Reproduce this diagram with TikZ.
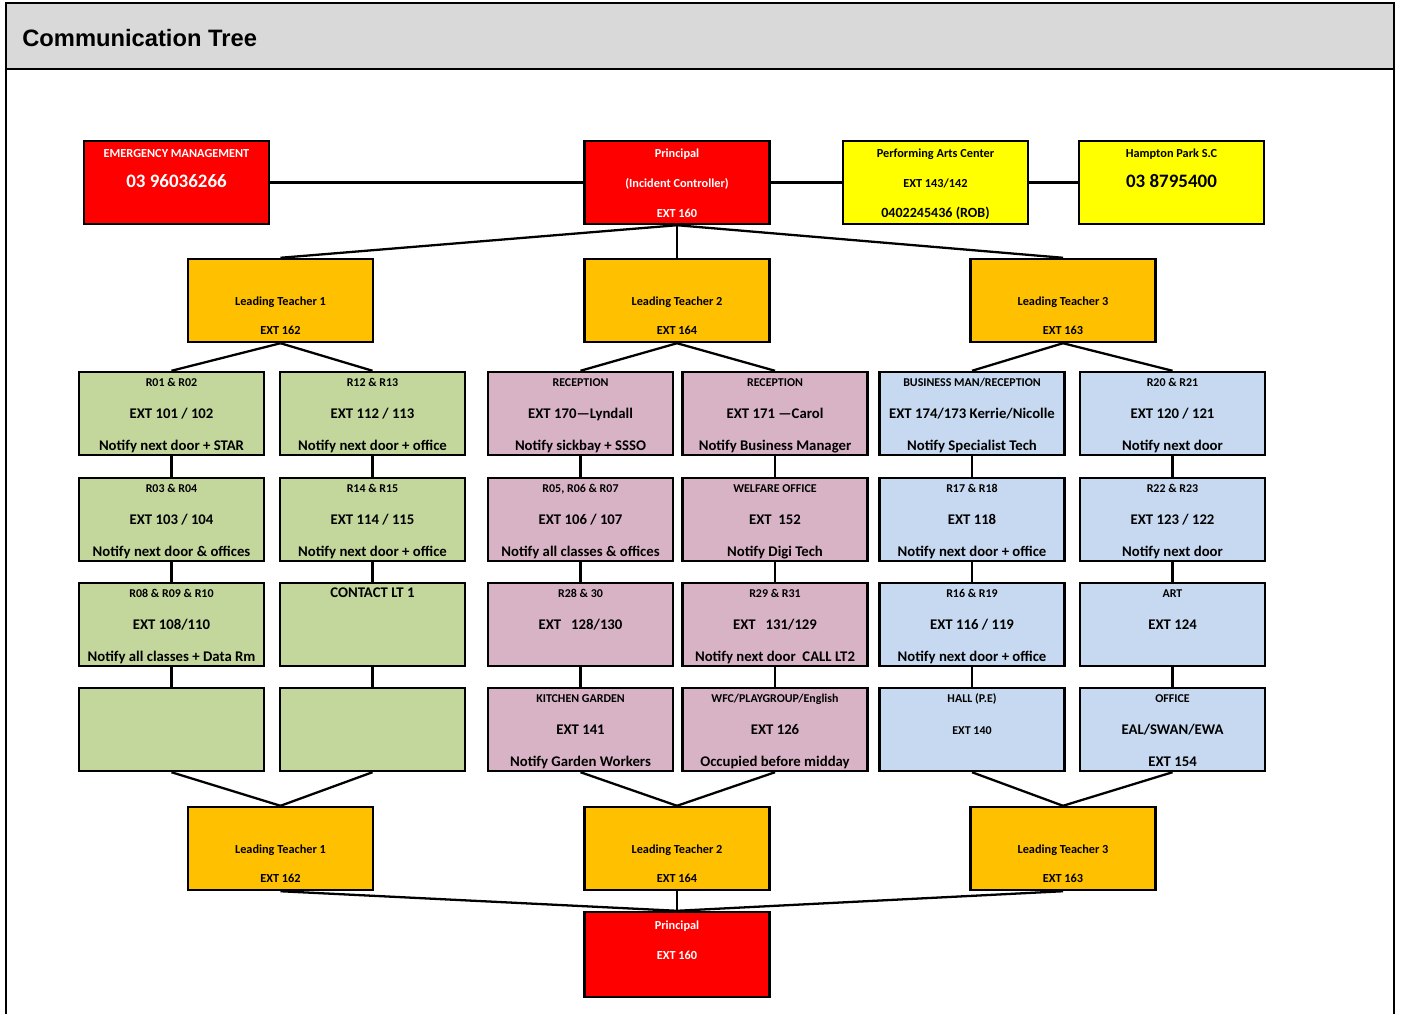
\documentclass[tikz,border=0pt]{standalone}
\usepackage{fontspec}
\setmainfont{Carlito}
\newfontfamily\headfont{Liberation Sans}
\definecolor{alarmred}{RGB}{255,0,0}
\definecolor{brightyellow}{RGB}{255,255,0}
\definecolor{leadorange}{RGB}{255,192,0}
\definecolor{roomgreen}{RGB}{195,214,155}
\definecolor{roompink}{RGB}{216,179,197}
\definecolor{roomblue}{RGB}{198,217,240}
\definecolor{bargray}{RGB}{217,217,217}
\newcommand{\lstrut}{\rule[-2.2pt]{0pt}{10.2pt}}
\newcommand{\three}[3]{\lstrut#1\\\lstrut#2\\\lstrut#3}
\newcommand{\hd}[1]{{\fontsize{6.8}{8}\selectfont#1}}
\newcommand{\bignum}[1]{{\fontsize{10.8}{12}\selectfont#1}}
\tikzset{
	link/.style={line width=1.3pt,draw=black},
	box/.style={draw=black,line width=1.4pt,align=center,inner sep=0pt,
		minimum width=3.7cm,minimum height=1.66cm,font=\bfseries},
	topbox/.style={box,font=\fontsize{7}{17}\selectfont\bfseries},
	leadbox/.style={box,fill=leadorange,font=\fontsize{7}{16.5}\selectfont\bfseries},
	room/.style={box,font=\fontsize{8.4}{18}\selectfont\bfseries},
}

\begin{document}
\begin{tikzpicture}[x=0.02cm,y=-0.02cm]
	\useasboundingbox (0,0) rectangle (1402,1014);
	% page frame and title bar
	\path[fill=bargray,draw=black,line width=1.1pt] (6,3) rectangle (1394,69);
	\draw[line width=1.1pt] (6,69) -- (6,1014);
	\draw[line width=1.1pt] (1394,69) -- (1394,1014);
	\node[anchor=west,inner sep=0pt,font=\headfont\bfseries\fontsize{13.5}{16}\selectfont]
		(title) at (22,38) {Communication Tree};
	
	% top row
	\node[topbox,fill=alarmred,text=white] (emerg) at (176.5,182.5)
		{\three{EMERGENCY MANAGEMENT}{\bignum{03 96036266}}{}};
	\node[topbox,fill=alarmred,text=white] (principal) at (677,182.5)
		{\three{Principal}{(Incident Controller)}{EXT 160}};
	\node[topbox,fill=brightyellow] (arts) at (935.5,182.5)
		{\three{Performing Arts Center}{EXT 143/142}{{\fontsize{8}{9}\selectfont 0402245436 (ROB)}}};
	\node[topbox,fill=brightyellow] (hampton) at (1171.5,182.5)
		{\three{Hampton Park S.C}{\bignum{03 8795400}}{}};
	\draw[link] (emerg.east) -- (principal.west);
	\draw[link] (principal.east) -- (arts.west);
	\draw[link] (arts.east) -- (hampton.west);
	
	% leading teachers
	\node[leadbox] (lead1) at (280.5,300.5) {\three{}{Leading Teacher 1}{EXT 162}};
	\node[leadbox] (lead2) at (677,300.5) {\three{}{Leading Teacher 2}{EXT 164}};
	\node[leadbox] (lead3) at (1063,300.5) {\three{}{Leading Teacher 3}{EXT 163}};
	\draw[link] (principal.south) -- (lead1.north);
	\draw[link] (principal.south) -- (lead2.north);
	\draw[link] (principal.south) -- (lead3.north);
	
	% rooms, first row
	\node[room,fill=roomgreen] (rm0102) at (171.5,413.5)
		{\three{\hd{R01 \& R02}}{EXT 101 / 102}{Notify next door + STAR}};
	\node[room,fill=roomgreen] (rm1213) at (372.5,413.5)
		{\three{\hd{R12 \& R13}}{EXT 112 / 113}{Notify next door + office}};
	\node[room,fill=roompink] (recep1) at (580.5,413.5)
		{\three{\hd{RECEPTION}}{EXT 170---Lyndall}{Notify sickbay + SSSO}};
	\node[room,fill=roompink] (recep2) at (775,413.5)
		{\three{\hd{RECEPTION}}{EXT 171 ---Carol}{Notify Business Manager}};
	\node[room,fill=roomblue] (busman) at (972,413.5)
		{\three{\hd{BUSINESS MAN/RECEPTION}}{EXT 174/173 Kerrie/Nicolle}{Notify Specialist Tech}};
	\node[room,fill=roomblue] (rm2021) at (1172.5,413.5)
		{\three{\hd{R20 \& R21}}{EXT 120 / 121}{Notify next door}};
	\draw[link] (lead1.south) -- (rm0102.north);
	\draw[link] (lead1.south) -- (rm1213.north);
	\draw[link] (lead2.south) -- (recep1.north);
	\draw[link] (lead2.south) -- (recep2.north);
	\draw[link] (lead3.south) -- (busman.north);
	\draw[link] (lead3.south) -- (rm2021.north);
	
	% second row
	\node[room,fill=roomgreen] (rm0304) at (171.5,519.5)
		{\three{\hd{R03 \& R04}}{EXT 103 / 104}{Notify next door \& offices}};
	\node[room,fill=roomgreen] (rm1415) at (372.5,519.5)
		{\three{\hd{R14 \& R15}}{EXT 114 / 115}{Notify next door + office}};
	\node[room,fill=roompink] (rm050607) at (580.5,519.5)
		{\three{\hd{R05, R06 \& R07}}{EXT 106 / 107}{Notify all classes \& offices}};
	\node[room,fill=roompink] (welfare) at (775,519.5)
		{\three{\hd{WELFARE OFFICE}}{EXT\ \ 152}{Notify Digi Tech}};
	\node[room,fill=roomblue] (rm1718) at (972,519.5)
		{\three{\hd{R17 \& R18}}{EXT 118}{Notify next door + office}};
	\node[room,fill=roomblue] (rm2223) at (1172.5,519.5)
		{\three{\hd{R22 \& R23}}{EXT 123 / 122}{Notify next door}};
	
	% third row
	\node[room,fill=roomgreen] (rm080910) at (171.5,624.5)
		{\three{\hd{R08 \& R09 \& R10}}{EXT 108/110}{Notify all classes + Data Rm}};
	\node[room,fill=roomgreen] (contact) at (372.5,624.5)
		{\three{CONTACT LT 1}{}{}};
	\node[room,fill=roompink] (rm2830) at (580.5,624.5)
		{\three{\hd{R28 \& 30}}{EXT\ \ \ 128/130}{}};
	\node[room,fill=roompink] (rm2931) at (775,624.5)
		{\three{\hd{R29 \& R31}}{EXT\ \ \ 131/129}{Notify next door\ \ CALL LT2}};
	\node[room,fill=roomblue] (rm1619) at (972,624.5)
		{\three{\hd{R16 \& R19}}{EXT 116 / 119}{Notify next door + office}};
	\node[room,fill=roomblue] (art) at (1172.5,624.5)
		{\three{\hd{ART}}{EXT 124}{}};
	
	% fourth row
	\node[room,fill=roomgreen] (blank1) at (171.5,729.5) {};
	\node[room,fill=roomgreen] (blank2) at (372.5,729.5) {};
	\node[room,fill=roompink] (kitchen) at (580.5,729.5)
		{\three{\hd{KITCHEN GARDEN}}{EXT 141}{Notify Garden Workers}};
	\node[room,fill=roompink] (wfc) at (775,729.5)
		{\three{\hd{WFC/PLAYGROUP/English}}{EXT 126}{Occupied before midday}};
	\node[room,fill=roomblue] (hall) at (972,729.5)
		{\three{\hd{HALL (P.E)}}{\hd{EXT 140}}{}};
	\node[room,fill=roomblue] (office) at (1172.5,729.5)
		{\three{\hd{OFFICE}}{EAL/SWAN/EWA}{EXT 154}};
	
	\draw[link] (rm0102) -- (rm0304) -- (rm080910) -- (blank1);
	\draw[link] (rm1213) -- (rm1415) -- (contact) -- (blank2);
	\draw[link] (recep1) -- (rm050607) -- (rm2830) -- (kitchen);
	\draw[link] (recep2) -- (welfare) -- (rm2931) -- (wfc);
	\draw[link] (busman) -- (rm1718) -- (rm1619) -- (hall);
	\draw[link] (rm2021) -- (rm2223) -- (art) -- (office);
	
	% back up the tree
	\node[leadbox] (leadb1) at (280.5,848.5) {\three{}{Leading Teacher 1}{EXT 162}};
	\node[leadbox] (leadb2) at (677,848.5) {\three{}{Leading Teacher 2}{EXT 164}};
	\node[leadbox] (leadb3) at (1063,848.5) {\three{}{Leading Teacher 3}{EXT 163}};
	\draw[link] (blank1.south) -- (leadb1.north);
	\draw[link] (blank2.south) -- (leadb1.north);
	\draw[link] (kitchen.south) -- (leadb2.north);
	\draw[link] (wfc.south) -- (leadb2.north);
	\draw[link] (hall.south) -- (leadb3.north);
	\draw[link] (office.south) -- (leadb3.north);
	
	\node[topbox,fill=alarmred,text=white,minimum height=1.7cm] (principalb) at (677,954.5)
		{\three{Principal}{EXT 160}{}};
	\draw[link] (leadb1.south) -- (principalb.north);
	\draw[link] (leadb2.south) -- (principalb.north);
	\draw[link] (leadb3.south) -- (principalb.north);
\end{tikzpicture}
\end{document}
